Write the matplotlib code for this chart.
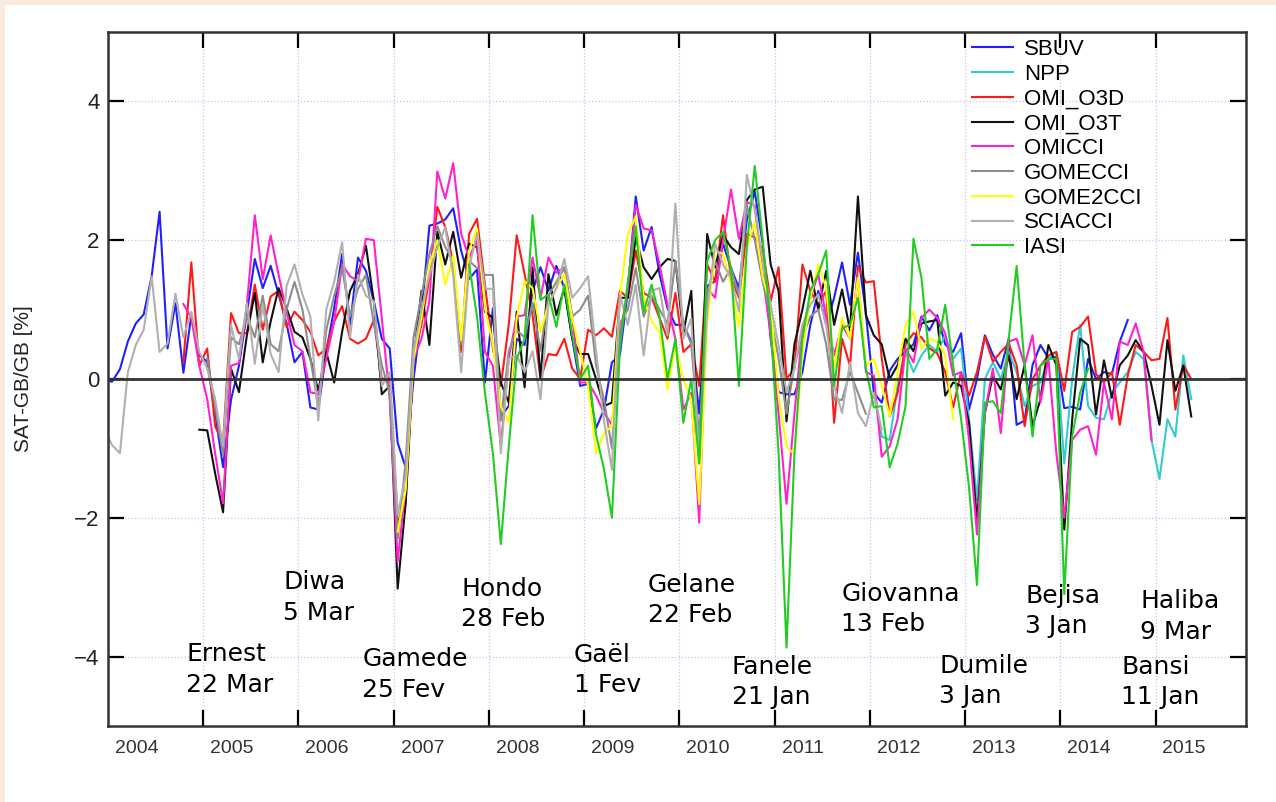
import numpy as np
import matplotlib.pyplot as plt
from matplotlib.patches import Rectangle

# monthly SAT-GB/GB differences [%], one value per month from the start month
sbuv_start = (2003, 12)
sbuv = [0.0,
        -0.04, 0.14, 0.54, 0.80, 0.93, 1.48, 2.41, 0.44, 1.09, 0.09, 0.92, 0.34,
        0.25, -0.5, -1.27, -0.3, 0.19, 0.95, 1.73, 1.31, 1.63, 1.22, 0.8, 0.24,
        0.39, -0.41, -0.44, 0.39, 1.02, 1.8, 0.78, 1.75, 1.56, 1.12, 0.58, 0.44,
        -0.92, -1.27, 0.0, 0.92, 2.21, 2.24, 2.3, 2.46, 1.85, 1.44, 1.58, -0.05,
        1.02, -0.54, -0.39, 0.58, 0.49, 1.27, 1.61, 1.27, 1.63, 1.31, 0.58, -0.1,
        -0.07, -0.71, -0.44, 0.24, 0.34, 1.27, 2.63, 1.85, 2.19, 1.51, 1.02, 0.78,
        0.78, 0.54, -0.5, 1.34, 1.41, 1.95, 1.6, 1.31, 2.29, 2.7, 1.95, 0.58,
        -0.19, -0.22, -0.22, 0.1, 0.78, 1.27, 0.78, 1.17, 1.68, 1.07, 1.82, 0.95,
        -0.2, -0.34, 0.12, 0.29, 0.4, 0.5, 0.9, 0.7, 0.92, 0.5, 0.39, 0.66,
        -0.44, 0.0, 0.63, 0.35, 0.15, 0.58, -0.66, -0.6, 0.2, 0.49, 0.3, 0.32,
        -0.42, -0.4, -0.44, 0.29, 0.0, 0.1, 0.07, 0.54, 0.85]

npp_start = (2012, 1)
npp = [-0.2, -0.83, -0.88, -0.1, 0.39, 0.1, 0.34, 0.49, 0.39, 0.63, 0.29, 0.44,
       -0.58, -1.75, 0.0, 0.24, 0.0, 0.39, 0.1, -0.39, -0.1, -0.05, 0.29, 0.39,
       -1.22, 0.0, 0.78, -0.39, -0.56, -0.58, -0.2, -0.05, 0.1, 0.39, 0.29, -0.88,
       -1.44, -0.58, -0.83, 0.34, -0.29]

omi_o3d_start = (2004, 10)
omi_o3d = [0.24, 1.68, 0.19,
           0.44, -0.68, -0.92, 0.95, 0.66, 0.66, 1.36, 0.71, 1.19, 1.27, 0.75, 0.97,
           0.85, 0.68, 0.34, 0.44, 0.83, 1.05, 0.58, 0.51, 0.58, 0.85, 0.0, 0.02,
           -2.07, -1.8, 0.34, 0.78, 1.46, 2.48, 2.19, 1.68, 0.39, 2.09, 2.31, 1.36,
           0.44, -0.1, 0.78, 2.07, 1.51, 0.92, 0.0, 0.36, 0.34, 0.58, 0.15, 0.0,
           0.71, 0.63, 0.73, 0.61, 1.27, 1.17, 1.85, 1.24, 1.17, 0.88, 0.58, 1.24,
           0.39, 0.5, -0.1, 1.65, 1.4, 2.36, 1.46, 1.17, 2.09, 2.04, 1.87, 1.12,
           1.61, 0.0, 0.15, 1.65, 1.27, 1.07, 1.27, -0.63, 0.58, 0.19, 1.63, 1.39,
           1.41, 0.3, -0.54, -0.2, 0.5, 0.66, 0.6, 0.44, 0.37, 0.1, -0.41, 0.1,
           -0.24, 0.1, 0.61, 0.25, 0.39, 0.51, 0.2, -0.68, 0.0, 0.19, 0.34, 0.39,
           -0.17, 0.68, 0.75, 0.9, 0.07, -0.05, 0.1, -0.66, 0.05, 0.49, 0.39, 0.27,
           0.29, 0.88, -0.44, 0.2, 0.0]

omi_o3t_start = (2004, 12)
omi_o3t = [-0.73,
           -0.74, -1.36, -1.92, 0.15, -0.19, 0.63, 1.24, 0.24, 0.83, 1.31, 1.02, 0.68,
           0.6, 0.29, -0.17, 0.39, -0.05, 0.68, 1.27, 1.51, 1.92, 1.12, -0.22, -0.1,
           -3.02, -1.8, 0.29, 1.27, 0.49, 2.12, 1.65, 2.12, 1.46, 1.95, 1.9, 0.97,
           0.88, -0.05, -0.34, 0.97, -0.12, 1.61, 0.0, 1.51, 0.92, 1.31, 0.58, 0.36,
           0.36, 0.0, -0.39, -0.34, 1.17, 1.17, 2.04, 1.61, 1.44, 1.61, 1.73, 1.7,
           0.66, 1.27, -1.19, 2.09, 1.61, 2.07, 1.9, 1.8, 2.58, 2.73, 2.77, 1.65,
           1.27, -0.61, 0.5, 1.0, 1.56, 1.0, 1.56, 0.78, 1.29, 0.7, 2.63, 0.92,
           0.63, 0.5, 0.0, 0.2, 0.58, 0.4, 0.8, 0.83, 0.85, -0.24, -0.05, -0.1,
           -0.63, -2.04, -0.49, 0.05, -0.15, 0.34, -0.29, 0.2, -0.68, -0.29, 0.49, 0.2,
           -2.17, -0.58, 0.58, 0.49, -0.51, 0.27, -0.27, 0.2, 0.34, 0.56, 0.39, -0.1,
           -0.66, 0.56, -0.17, 0.19, -0.54]

omicci_start = (2004, 10)
omicci = [1.08, 0.88, 0.19,
          -0.29, -1.07, -1.79, 0.19, 0.23, 1.07, 2.36, 1.44, 2.07, 1.5, 0.97, 0.49,
          0.4, -0.19, -0.22, 0.29, 0.83, 1.65, 1.48, 1.41, 2.02, 2.0, 0.88, -0.29,
          -2.63, -1.56, 0.29, 0.58, 1.12, 2.99, 2.6, 3.11, 2.09, 1.75, 2.0, 0.39,
          0.19, -0.97, 0.3, 0.9, 0.92, 1.75, 1.17, 1.75, 1.53, 1.61, 0.88, -0.05,
          -0.05, -0.24, -0.49, -0.66, 0.6, 1.3, 2.51, 2.17, 2.14, 1.65, 1.07, 0.58,
          -0.44, -0.2, -2.07, 1.31, 1.17, 2.0, 2.73, 2.02, 2.55, 2.5, 1.5, 0.63,
          -0.5, -1.8, -0.5, 0.7, 1.17, 1.51, 0.9, 0.34, 0.78, 0.58, 1.46, 0.1,
          0.05, -1.12, -0.97, -0.58, 0.44, 0.24, 0.88, 1.0, 0.88, 0.66, 0.05, 0.1,
          -0.88, -2.24, -0.49, 0.15, -0.78, 0.54, 0.58, 0.2, 0.63, -0.34, 0.29, -1.07,
          -2.0, -0.88, -0.73, -0.68, -1.09, -0.05, -0.58, 0.54, 0.49, 0.8, 0.39, -0.88]

gomecci_start = (2005, 1)
gomecci = [0.3, -0.4, -1.1, 0.6, 0.5, 0.9, 0.6, 1.2, 0.5, 0.4, 1.0, 1.4,
           1.0, 0.3, -0.4, 0.7, 1.2, 1.6, 0.9, 1.3, 1.5, 0.8, 0.2, -0.2,
           -2.3, -1.2, 0.6, 1.2, 1.8, 2.2, 1.9, 1.7, 0.5, 1.7, 1.6, 1.5,
           1.5, -0.6, 0.4, 0.7, 0.6, 1.1, 0.4, 1.2, 1.4, 1.6, 0.9, 1.0,
           1.2, 0.2, -0.3, -1.0, 0.8, 1.0, 1.6, 0.9, 1.2, 1.0, 0.8, 1.7,
           0.8, 0.5, -0.9, 1.2, 1.7, 1.4, 1.6, 1.2, 2.5, 2.0, 1.4, 0.9,
           0.3, -0.5, 0.2, 0.6, 0.9, 1.0, 0.5, -0.3, -0.3, 0.1, -0.2, -0.5]

gome2cci_start = (2007, 1)
gome2cci = [-2.2, -1.6, 0.29, 0.88, 1.63, 2.0, 1.36, 1.78, 0.56, 1.85, 2.17, 1.02,
            0.5, -0.39, -0.63, 0.88, 1.41, 1.31, 0.68, 1.07, 1.31, 1.51, 0.88, 0.39,
            -0.1, -1.07, -0.78, -0.68, 1.17, 2.09, 2.34, 1.17, 0.83, 0.68, -0.15, 0.49,
            0.0, -0.3, -1.8, 0.8, 1.85, 1.8, 1.36, 0.75, 1.9, 2.26, 1.46, 1.07,
            -0.24, -0.97, -1.09, 0.39, 1.17, 1.65, 1.31, 0.15, 0.88, 0.58, 1.46, 0.19,
            0.29, -0.1, -0.54, 0.1, 0.78, 0.97, 0.44, 0.58, 0.54, 0.34, -0.58]

sciacci_start = (2003, 12)
sciacci = [-0.71,
           -0.95, -1.07, 0.1, 0.49, 0.71, 1.48, 0.39, 0.51, 1.23, 0.6, 0.97, 0.39,
           0.15, -0.29, -0.97, 0.78, 0.29, 1.09, 0.22, 1.07, 0.36, 0.1, 1.34, 1.65,
           1.22, 0.9, -0.6, 1.0, 1.4, 1.97, 0.6, 1.5, 1.2, 1.12, -0.1, 0.1,
           -1.95, -1.4, 0.4, 1.0, 1.5, 1.9, 2.19, 1.5, 0.1, 1.6, 2.1, 1.3,
           1.3, -1.07, 0.3, 0.34, 0.1, 0.4, -0.29, 1.07, 1.31, 1.73, 1.17, 1.31,
           1.48, 0.4, -0.6, -1.31, 1.22, 0.78, 1.36, 0.34, 1.27, 1.31, 0.63, 2.53,
           0.58, 0.87, -1.16, 0.97, 1.95, 1.65, 1.46, 0.97, 2.94, 2.43, 1.7, 1.07,
           0.49, -0.19, 0.15, 0.78, 1.07, 1.22, 0.78, -0.1, -0.49, 0.24, -0.49, -0.68,
           -0.2, -0.73]

iasi_start = (2007, 10)
iasi = [1.65, 0.9, -0.2,
        -1.07, -2.38, -0.97, 0.29, 0.58, 2.36, 1.14, 1.22, 0.75, 1.36, 0.63, 0.0,
        0.19, -0.8, -1.3, -2.0, 0.44, 1.4, 2.2, 0.97, 1.36, 0.9, 0.0, 0.58,
        -0.63, 0.0, -1.22, 1.7, 2.0, 2.12, 1.6, -0.1, 1.9, 3.07, 2.0, 0.78,
        -1.07, -3.87, -1.07, 0.58, 1.27, 1.51, 1.85, -0.1, 0.73, 0.78, 1.17, 0.15,
        -0.41, -0.39, -1.27, -0.93, -0.39, 2.02, 1.46, 0.29, 0.44, 1.07, 0.19, -0.58,
        -1.56, -2.97, -0.34, -0.32, -0.49, 0.58, 1.63, 0.19, -0.83, 0.19, 0.29, 0.29,
        -3.1, -0.83, -0.2, 0.15]

series = [("SBUV", sbuv_start, sbuv, "#2020ff"),
          ("NPP", npp_start, npp, "#33cccc"),
          ("OMI_O3D", omi_o3d_start, omi_o3d, "#ff1a1a"),
          ("OMI_O3T", omi_o3t_start, omi_o3t, "#111111"),
          ("OMICCI", omicci_start, omicci, "#ff22cc"),
          ("GOMECCI", gomecci_start, gomecci, "#8c8c8c"),
          ("GOME2CCI", gome2cci_start, gome2cci, "#ffff00"),
          ("SCIACCI", sciacci_start, sciacci, "#b0b0b0"),
          ("IASI", iasi_start, iasi, "#22cc22")]

# cyclone names and dates, placed under the curves
cyclones = ["Ernest\n22 Mar", "Diwa\n5 Mar", "Gamede\n25 Fev", "Hondo\n28 Feb",
            "Gaël\n1 Fev", "Gelane\n22 Feb", "Fanele\n21 Jan", "Giovanna\n13 Feb",
            "Dumile\n3 Jan", "Bejisa\n3 Jan", "Haliba\n9 Mar", "Bansi\n11 Jan"]
cyclone_x = [2004.82, 2005.84, 2006.67, 2007.71, 2008.89, 2009.67, 2010.55,
             2011.70, 2012.73, 2013.63, 2014.84, 2014.64]
cyclone_y = [-3.79, -2.75, -3.86, -2.85, -3.80, -2.79, -3.97, -2.92, -3.96,
             -2.95, -3.03, -3.97]

years = np.arange(2004, 2016)


def month_times(start, n):
    y0, m0 = start
    return y0 + (m0 - 1 + np.arange(n) + 0.5) / 12.0


plt.rcParams['font.family'] = ['Liberation Sans', 'DejaVu Sans']
fig = plt.figure(figsize=(12.76, 8.02), dpi=100)
fig.patches.append(Rectangle((0, 0), 1, 1, transform=fig.transFigure,
                             facecolor='#fcebdc', edgecolor='none', zorder=-10))
fig.patches.append(Rectangle((5 / 1276, 0), 1, 1 - 5 / 802, transform=fig.transFigure,
                             facecolor='white', edgecolor='none', zorder=-9))

ax = fig.add_axes([108 / 1276, 76 / 802, 1138 / 1276, 694 / 802])
ax.set_facecolor('none')

for name, start, vals, col in series:
    ax.plot(month_times(start, len(vals)), vals, color=col, lw=1.5, label=name)

ax.axhline(0, color='#333333', lw=2.0, zorder=3)

ax.set_xlim(2004, 2015.95)
ax.set_ylim(-5, 5)
ax.set_yticks([-4, -2, 0, 2, 4])
ax.set_xticks(years[1:])
ax.set_xticklabels([])
ax.set_xticks(years + 0.3, minor=True)
ax.set_xticklabels([str(y) for y in years], minor=True)
ax.tick_params(axis='x', which='major', direction='in', length=11.5, width=1.6,
               top=True, bottom=True)
ax.tick_params(axis='x', which='minor', length=0, pad=10, labelsize=14,
               labelcolor='#333333')
ax.tick_params(axis='y', direction='in', length=11.5, width=1.6, left=True,
               right=True, labelsize=16, pad=6, labelcolor='#222222')
ax.grid(True, which='major', linestyle=':', color='#c4c4ee', lw=0.9)
for s in ax.spines.values():
    s.set_linewidth(1.8)
    s.set_color('#333333')

fig.text(24 / 1276, 1 - 379 / 802, 'SAT-GB/GB [%]', rotation=90, ha='center',
         va='center', fontsize=15, color='#222222')

for txt, x, y in zip(cyclones, cyclone_x, cyclone_y):
    ax.text(x, y, txt, fontsize=18, family='DejaVu Sans', ha='left', va='top',
            linespacing=1.35, color='black')

ax.legend(loc='upper left', bbox_to_anchor=(972 / 1276, 1 - 39 / 802),
          bbox_transform=fig.transFigure, frameon=False, fontsize=16,
          handlelength=1.85, handletextpad=0.5, labelspacing=0.17,
          borderpad=0, borderaxespad=0)

fig.savefig('out.png', dpi=100)
